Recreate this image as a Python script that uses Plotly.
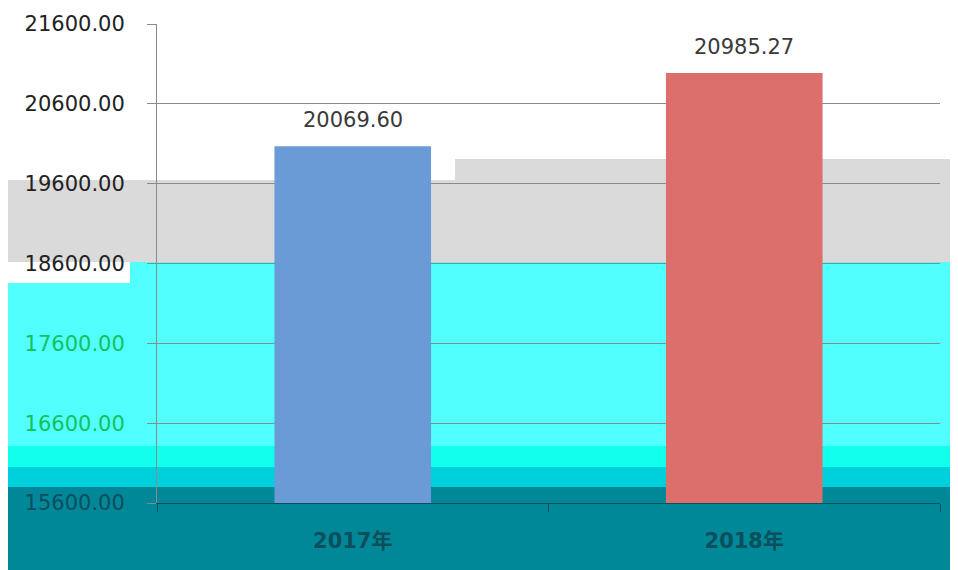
import plotly.graph_objects as go

# ---- data ----
categories = ["2017年", "2018年"]
values = [20069.60, 20985.27]
bar_colors = ["#6B9BD7", "#DC6E6B"]
y_ticks = [15600, 16600, 17600, 18600, 19600, 20600, 21600]
y_tick_colors = ["#0B4E5C", "#16C060", "#16C060", "#222222", "#222222", "#222222", "#222222"]

# ---- layout geometry ----
OFF = 8                      # page margin around the figure
W, H = 958 - OFF, 570 - OFF
L, R, T, B = 149, 18, 16, 67
PW, PH = W - L - R, H - T - B


def px(x):   # page pixel -> paper
    return (x - OFF - L) / PW


def py(y):
    return (H - B - (y - OFF)) / PH


# decorative colour bands seen in the picture: (x0, y0, x1, y1, colour) in page pixels
bands = [
    (7, 180, 455, 262, "#DADADA"),
    (455, 159, 958, 262, "#DADADA"),
    (7, 283, 130, 446, "#52FFFF"),
    (130, 262, 958, 446, "#52FFFF"),
    (7, 446, 958, 467, "#12FFEE"),
    (7, 467, 958, 487, "#00D0DC"),
    (7, 487, 958, 575, "#008898"),
]

shapes = [
    dict(type="rect", xref="paper", yref="paper",
         x0=px(x0), x1=px(x1), y0=py(y1), y1=py(y0),
         fillcolor=c, line=dict(width=0), layer="below")
    for (x0, y0, x1, y1, c) in bands
]

font_main = "DejaVu Sans, Noto Sans CJK SC, sans-serif"

fig = go.Figure()
fig.add_trace(go.Bar(
    x=categories, y=values,
    marker=dict(color=bar_colors, line=dict(width=0)),
    hoverinfo="x+y",
))

annotations = [
    dict(x=c, y=v, text=f"{v:.2f}", showarrow=False, xref="x", yref="y",
         yanchor="bottom", yshift=12,
         font=dict(family=font_main, size=21, color="#3A3A3A"))
    for c, v in zip(categories, values)
]

tick_text = [f"<span style='color:{col}'>{v:.2f}</span>" for v, col in zip(y_ticks, y_tick_colors)]

fig.update_layout(
    width=W, height=H,
    margin=dict(l=L, r=R, t=T, b=B, autoexpand=False),
    paper_bgcolor="white",
    plot_bgcolor="rgba(0,0,0,0)",
    bargap=0.6,
    showlegend=False,
    shapes=shapes,
    annotations=annotations,
    xaxis=dict(
        type="category", automargin=False,
        showline=True, linecolor="#0B4E5C", linewidth=1,
        ticks="outside", tickson="boundaries", ticklen=8, tickcolor="#0B4E5C",
        tickfont=dict(family=font_main, size=21, color="#0B4E5C", weight="bold"),
        ticklabelstandoff=19,
        showgrid=False,
    ),
    yaxis=dict(
        range=[15600, 21600], automargin=False,
        tickvals=y_ticks, ticktext=tick_text,
        showline=True, linecolor="#8A8A8A", linewidth=1,
        ticks="outside", ticklen=9, tickcolor="#8A8A8A",
        gridcolor="#8A8A8A", gridwidth=1,
        tickfont=dict(family=font_main, size=21, color="#222222"),
        ticklabelstandoff=18,
        zeroline=False,
    ),
)

fig.write_html("out.html")
